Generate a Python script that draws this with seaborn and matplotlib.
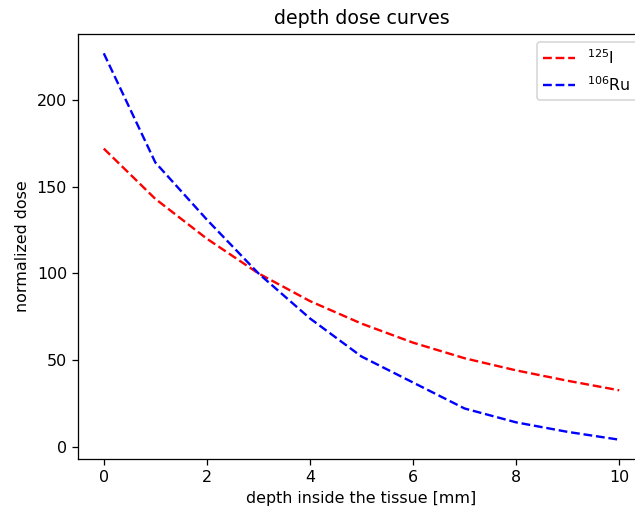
import matplotlib
matplotlib.use('Agg')
import matplotlib.pyplot as plt
import seaborn as sns
import pandas as pd

depth_mm = [0, 1, 2, 3, 4, 5, 6, 7, 8, 9, 10]
dose_i125 = [172, 143, 120, 100, 84, 71, 60, 51, 44, 38, 32.5]
dose_ru106 = [227, 164, 131, 100, 74, 52, 37, 22, 14, 8.5, 4]

df = pd.DataFrame({'depth': depth_mm, 'I125': dose_i125, 'Ru106': dose_ru106})

# original looks like a slightly upscaled render, so draw at a higher dpi
dpi = 114
fig = plt.figure(figsize=(635 / dpi, 512 / dpi), dpi=dpi)
# axes runs past the right edge, like the cropped original
ax = fig.add_axes([78 / 635, 53 / 512, 567 / 635, 425 / 512])

sns.lineplot(data=df, x='depth', y='I125', ax=ax, color='r', linestyle='--',
             label=r'$^{125}$I')
sns.lineplot(data=df, x='depth', y='Ru106', ax=ax, color='b', linestyle='--',
             label=r'$^{106}$Ru')

ax.set_title('depth dose curves')
ax.set_xlabel('depth inside the tissue [mm]')
ax.set_ylabel('normalized dose')
ax.set_xticks([0, 2, 4, 6, 8, 10])
ax.set_yticks([0, 50, 100, 150, 200])
ax.legend(loc='upper right')

fig.savefig('out.png', dpi=dpi)
